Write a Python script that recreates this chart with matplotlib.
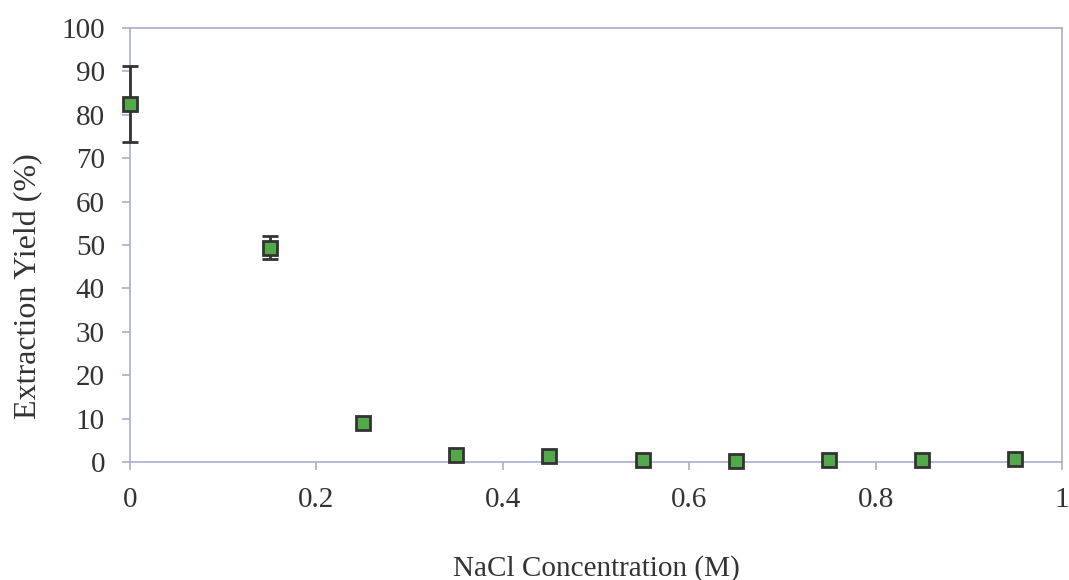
import matplotlib
matplotlib.use("Agg")
import matplotlib.pyplot as plt

nacl = [0.0, 0.15, 0.25, 0.35, 0.45, 0.55, 0.65, 0.75, 0.85, 0.95]
yield_pct = [82.5, 49.4, 8.9, 1.6, 1.4, 0.5, 0.2, 0.4, 0.4, 0.7]
yield_err = [8.7, 2.6, 0, 0, 0, 0, 0, 0, 0, 0]

x_ticks = [0, 0.2, 0.4, 0.6, 0.8, 1]
x_tick_labels = ["0", "0.2", "0.4", "0.6", "0.8", "1"]
y_ticks = list(range(0, 101, 10))

plt.rcParams["font.family"] = ["Liberation Serif", "DejaVu Serif"]

fig = plt.figure(figsize=(10.69, 5.8), dpi=100)
ax = fig.add_axes([0.1216, 0.2034, 0.8719, 0.7483])

axis_color = "#a9aecb"
dark = "#333333"

# error bars only where there is an error
ex = [x for x, e in zip(nacl, yield_err) if e > 0]
ey = [y for y, e in zip(yield_pct, yield_err) if e > 0]
ee = [e for e in yield_err if e > 0]
eb = ax.errorbar(ex, ey, yerr=ee, fmt="none", ecolor=dark, elinewidth=2,
                 capsize=6, capthick=2, zorder=3)
for art in eb.lines[1] + eb.lines[2]:
    art.set_clip_on(False)

ax.plot(nacl, yield_pct, "s", markersize=9.5, markerfacecolor="#52a94a",
        markeredgecolor=dark, markeredgewidth=2, zorder=4, clip_on=False)

ax.set_xlim(0, 1)
ax.set_ylim(0, 100)
ax.set_xticks(x_ticks)
ax.set_xticklabels(x_tick_labels)
ax.set_yticks(y_ticks)

for side in ["left", "bottom", "top", "right"]:
    ax.spines[side].set_color(axis_color)
    ax.spines[side].set_linewidth(1.2)

ax.tick_params(axis="both", direction="out", length=6, width=1.2, color=axis_color,
               labelsize=21, labelcolor=dark)
ax.tick_params(axis="x", pad=12)
ax.tick_params(axis="y", pad=12)

ax.set_xlabel("NaCl Concentration (M)", fontsize=21, color=dark, labelpad=30)
ax.set_ylabel("Extraction Yield (%)", fontsize=23, color=dark)
ax.yaxis.set_label_coords(-0.093, 0.405)

fig.savefig("out.png", dpi=100)
